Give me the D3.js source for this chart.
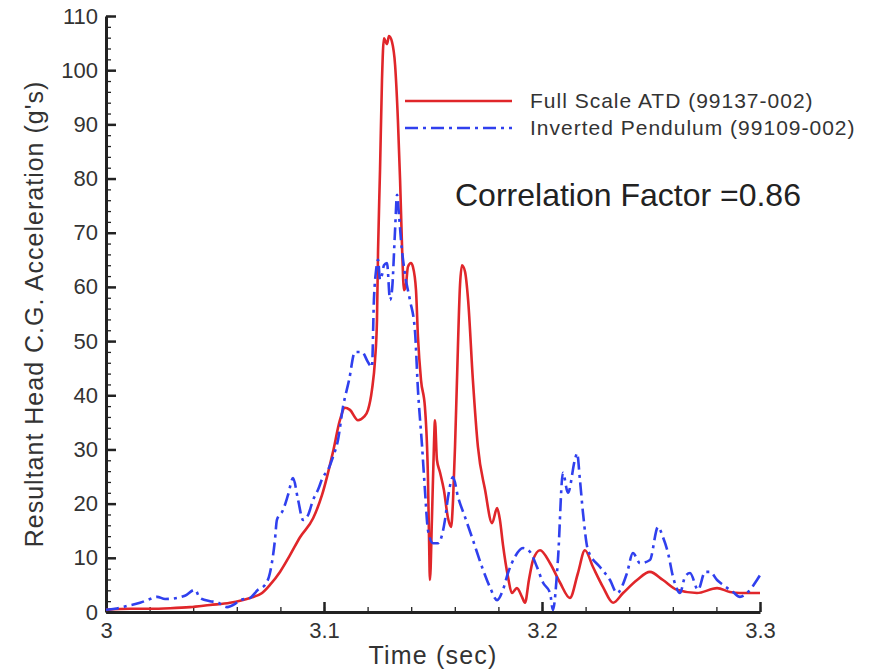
<!DOCTYPE html>
<html>
<head>
<meta charset="utf-8">
<script src="https://cdn.jsdelivr.net/npm/d3@7/dist/d3.min.js"></script>
<style>
  html, body { margin: 0; padding: 0; background: #fff; }
  svg { display: block; font-family: "Liberation Sans", Arial, Helvetica, sans-serif; }
</style>
</head>
<body>
<svg id="chart" width="874" height="671"></svg>
<script>
// Resultant head C.G. acceleration, time (s) vs g's
const atdTime = [3.0000,3.0110,3.0202,3.0294,3.0385,3.0477,3.0569,3.0661,3.0716,3.0752,3.0798,3.0844,3.0890,3.0950,3.0991,3.1041,3.1073,3.1096,3.1119,3.1156,3.1183,3.1202,3.1220,3.1234,3.1243,3.1248,3.1257,3.1266,3.1275,3.1289,3.1298,3.1312,3.1326,3.1339,3.1349,3.1358,3.1367,3.1376,3.1385,3.1399,3.1408,3.1422,3.1431,3.1445,3.1463,3.1477,3.1482,3.1486,3.1495,3.1505,3.1509,3.1518,3.1532,3.1550,3.1569,3.1583,3.1592,3.1601,3.1610,3.1624,3.1633,3.1647,3.1661,3.1683,3.1706,3.1739,3.1771,3.1794,3.1807,3.1821,3.1844,3.1862,3.1885,3.1908,3.1922,3.1940,3.1959,3.1991,3.2037,3.2083,3.2128,3.2165,3.2197,3.2234,3.2280,3.2326,3.2372,3.2436,3.2495,3.2555,3.2619,3.2711,3.2803,3.2862,3.2908,3.3000];
const atdAccel = [0.4,0.6,0.6,0.7,0.9,1.3,1.7,2.6,3.5,5.0,7.4,10.5,13.8,17.3,21.6,29.5,35.4,37.7,37.3,35.4,36.0,37.3,41.0,46.5,53.9,66.8,81.6,98.2,105.9,104.8,106.3,105.2,101.0,90.8,79.7,67.4,59.4,60.4,63.7,64.4,63.7,59.4,50.8,42.8,37.8,24.4,13.3,5.9,17.0,31.7,35.4,28.1,25.8,22.5,17.3,15.7,20.7,30.5,42.8,60.4,64.0,62.8,57.6,42.8,30.5,22.5,16.4,19.2,17.0,12.4,6.5,3.5,4.4,2.8,1.7,5.9,9.6,11.4,9.0,5.4,2.6,7.2,11.4,8.3,4.6,1.7,3.5,5.9,7.4,5.9,4.1,3.5,4.4,3.7,3.5,3.5];

const pendTime = [3.0000,3.0041,3.0096,3.0156,3.0202,3.0234,3.0271,3.0326,3.0362,3.0408,3.0431,3.0477,3.0509,3.0555,3.0592,3.0615,3.0661,3.0697,3.0729,3.0752,3.0775,3.0784,3.0812,3.0835,3.0858,3.0881,3.0904,3.0927,3.0950,3.0972,3.0995,3.1018,3.1041,3.1064,3.1087,3.1115,3.1142,3.1174,3.1202,3.1220,3.1229,3.1239,3.1248,3.1257,3.1266,3.1275,3.1289,3.1303,3.1312,3.1326,3.1335,3.1344,3.1353,3.1372,3.1394,3.1417,3.1431,3.1450,3.1463,3.1477,3.1500,3.1523,3.1555,3.1569,3.1592,3.1615,3.1647,3.1683,3.1725,3.1761,3.1794,3.1821,3.1844,3.1876,3.1913,3.1945,3.1977,3.2005,3.2037,3.2050,3.2073,3.2096,3.2119,3.2151,3.2161,3.2174,3.2188,3.2211,3.2266,3.2312,3.2344,3.2390,3.2417,3.2450,3.2495,3.2532,3.2555,3.2578,3.2601,3.2633,3.2656,3.2679,3.2716,3.2748,3.2771,3.2803,3.2830,3.2876,3.2908,3.2940,3.2986,3.3000];
const pendAccel = [0.4,0.6,1.1,1.7,2.4,2.8,2.4,2.6,3.0,4.1,2.6,2.0,1.8,0.9,1.5,2.2,2.6,4.1,5.0,7.2,13.3,17.0,18.8,21.6,24.7,20.7,17.0,17.9,20.7,22.5,24.9,26.2,28.6,31.7,37.8,42.8,48.0,48.0,46.1,45.2,57.6,63.1,65.0,61.3,62.2,64.0,64.4,57.6,59.4,70.5,77.0,73.3,68.7,62.2,57.6,52.0,41.0,30.5,22.5,15.1,12.7,12.7,17.0,21.2,24.9,21.2,17.5,13.3,8.3,4.6,2.2,4.1,7.2,10.2,11.8,11.1,8.3,5.4,3.5,0.4,9.6,25.7,22.0,28.1,29.3,24.4,18.3,11.4,8.3,5.9,3.5,7.2,10.9,9.0,9.6,15.7,13.8,10.9,6.5,3.5,6.5,7.2,4.1,7.4,7.4,5.9,5.0,3.7,2.8,3.5,5.9,6.8];

const seriesNames = ["Full Scale ATD (99137-002)", "Inverted Pendulum (99109-002)"];
const xTicks = [3, 3.1, 3.2, 3.3];
const yTicks = [0, 10, 20, 30, 40, 50, 60, 70, 80, 90, 100, 110];
const xTitle = "Time (sec)";
const yTitle = "Resultant Head C.G. Acceleration (g's)";
const note = "Correlation Factor =0.86";

const svg = d3.select("#chart");
const axisColor = "#222";
const textColor = "#333";
const red = "#e0262a";
const blue = "#3040ee";

const x = d3.scaleLinear().domain([3, 3.3]).range([106, 760]);
const y = d3.scaleLinear().domain([0, 110]).range([612, 16]);

// Minor ticks (inward)
const xMinor = d3.range(3, 3.3001, 0.02).map(v => +v.toFixed(2));
const yMinor = d3.range(0, 110.001, 2);

svg.append("g")
  .attr("transform", `translate(0,${y(0)})`)
  .call(d3.axisBottom(x).tickValues(xMinor).tickSize(-5).tickFormat(""))
  .call(g => g.select(".domain").remove())
  .call(g => g.selectAll("line").attr("stroke", axisColor).attr("stroke-width", 1.3));

svg.append("g")
  .attr("transform", `translate(${x(3)},0)`)
  .call(d3.axisLeft(y).tickValues(yMinor).tickSize(-5).tickFormat(""))
  .call(g => g.select(".domain").remove())
  .call(g => g.selectAll("line").attr("stroke", axisColor).attr("stroke-width", 1.3));

// Major ticks and labels
const xAxis = svg.append("g")
  .attr("transform", `translate(0,${y(0)})`)
  .call(d3.axisBottom(x).tickValues(xTicks).tickSizeInner(-10).tickSizeOuter(0).tickPadding(10)
        .tickFormat(d => d3.format("")(+d.toFixed(1))));
xAxis.select(".domain").attr("stroke", axisColor).attr("stroke-width", 3);
xAxis.selectAll(".tick line").attr("stroke", axisColor).attr("stroke-width", 2.5);
xAxis.selectAll(".tick text").attr("fill", textColor).attr("font-size", 22).attr("font-family", null);

const yAxis = svg.append("g")
  .attr("transform", `translate(${x(3)},0)`)
  .call(d3.axisLeft(y).tickValues(yTicks).tickSizeInner(-10).tickSizeOuter(0).tickPadding(8));
yAxis.select(".domain").attr("stroke", axisColor).attr("stroke-width", 3);
yAxis.selectAll(".tick line").attr("stroke", axisColor).attr("stroke-width", 2.5);
yAxis.selectAll(".tick text").attr("fill", textColor).attr("font-size", 22).attr("font-family", null);

// Axis titles
svg.append("text")
  .attr("x", 433).attr("y", 664)
  .attr("text-anchor", "middle")
  .attr("font-size", 25).attr("letter-spacing", 1.2).attr("fill", textColor)
  .text(xTitle);

svg.append("text")
  .attr("transform", `translate(43,${314}) rotate(-90)`)
  .attr("text-anchor", "middle")
  .attr("font-size", 25).attr("letter-spacing", 1).attr("fill", textColor)
  .text(yTitle);

// Curves
const line = d3.line().x(d => x(d[0])).y(d => y(d[1])).curve(d3.curveMonotoneX);
const atd = atdTime.map((t, i) => [t, atdAccel[i]]);
const pend = pendTime.map((t, i) => [t, pendAccel[i]]);

svg.append("path").datum(atd)
  .attr("d", line)
  .attr("fill", "none").attr("stroke", red).attr("stroke-width", 2.6)
  .attr("stroke-linejoin", "round");

svg.append("path").datum(pend)
  .attr("d", line)
  .attr("fill", "none").attr("stroke", blue).attr("stroke-width", 2.6)
  .attr("stroke-dasharray", "13,5,3,5")
  .attr("stroke-linejoin", "round");

// Legend
const legend = svg.append("g");
const legendRows = [
  { name: seriesNames[0], color: red, dash: null, y: 101 },
  { name: seriesNames[1], color: blue, dash: "13,5,3,5", y: 128 }
];
legendRows.forEach(r => {
  legend.append("line")
    .attr("x1", 405).attr("x2", 512).attr("y1", r.y).attr("y2", r.y)
    .attr("stroke", r.color).attr("stroke-width", 2.6)
    .attr("stroke-dasharray", r.dash);
  legend.append("text")
    .attr("x", 530).attr("y", r.y + 7)
    .attr("font-size", 21).attr("letter-spacing", 1).attr("fill", textColor)
    .text(r.name);
});

svg.append("text")
  .attr("x", 455).attr("y", 206)
  .attr("font-size", 32).attr("fill", "#222")
  .text(note);
</script>
</body>
</html>
